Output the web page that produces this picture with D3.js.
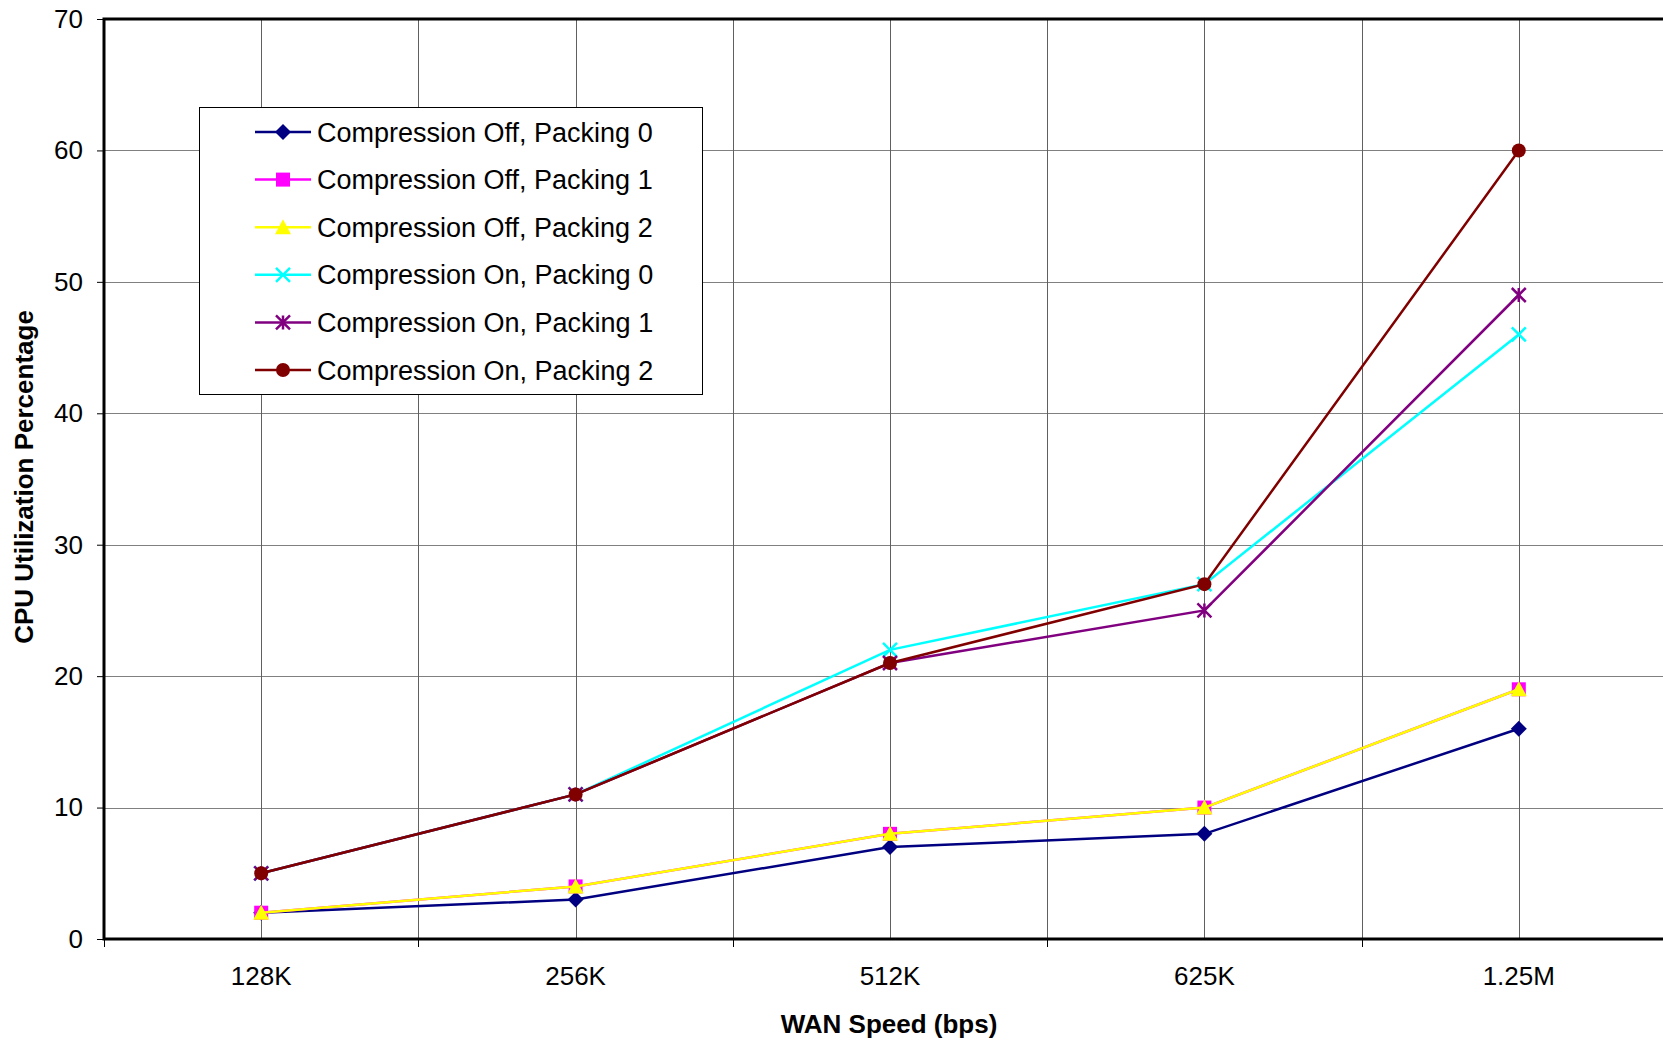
<!DOCTYPE html>
<html>
<head>
<meta charset="utf-8">
<script src="https://cdn.jsdelivr.net/npm/d3@7"></script>
<style>
  html, body { margin: 0; padding: 0; background: #fff; }
  svg { display: block; font-family: "Liberation Sans", Arial, sans-serif; }
</style>
</head>
<body>
<svg id="chart" width="1663" height="1042"></svg>
<script>
// WAN speeds tested
const categories = ["128K", "256K", "512K", "625K", "1.25M"];

// CPU utilization (%) per configuration
const offPack0 = [2, 3, 7, 8, 16];
const offPack1 = [2, 4, 8, 10, 19];
const offPack2 = [2, 4, 8, 10, 19];
const onPack0  = [5, 11, 22, 27, 46];
const onPack1  = [5, 11, 21, 25, 49];
const onPack2  = [5, 11, 21, 27, 60];

const yTicks = [0, 10, 20, 30, 40, 50, 60, 70];

const seriesNames = [
  "Compression Off, Packing 0",
  "Compression Off, Packing 1",
  "Compression Off, Packing 2",
  "Compression On, Packing 0",
  "Compression On, Packing 1",
  "Compression On, Packing 2"
];

const series = [
  { name: seriesNames[0], values: offPack0, color: "#000080", shape: "diamond" },
  { name: seriesNames[1], values: offPack1, color: "#FF00FF", shape: "square" },
  { name: seriesNames[2], values: offPack2, color: "#FFFF00", shape: "triangle" },
  { name: seriesNames[3], values: onPack0,  color: "#00FFFF", shape: "cross" },
  { name: seriesNames[4], values: onPack1,  color: "#800080", shape: "star" },
  { name: seriesNames[5], values: onPack2,  color: "#800000", shape: "circle" }
];

const svg = d3.select("#chart");

// Plot area (runs past the right edge of the canvas)
const plotLeft = 104, plotTop = 19, plotBottom = 939, plotRight = 1676;

const x = d3.scaleBand().domain(categories).range([plotLeft, plotRight]).paddingInner(0).paddingOuter(0);
const cx = c => x(c) + x.bandwidth() / 2;
const y = d3.scaleLinear().domain([0, 70]).range([plotBottom, plotTop]);

const grid = svg.append("g").attr("class", "grid");
// horizontal gridlines
grid.selectAll("line.h").data(yTicks.filter(t => t > 0 && t < 70)).join("line")
  .attr("class", "h")
  .attr("x1", plotLeft).attr("x2", plotRight)
  .attr("y1", d => Math.round(y(d)) + 0.5).attr("y2", d => Math.round(y(d)) + 0.5)
  .attr("stroke", "#808080").attr("stroke-width", 1);
// vertical gridlines at category centers and band boundaries
const vLines = [];
categories.forEach((c, i) => {
  vLines.push(cx(c));
  if (i > 0) vLines.push(x(c));
});
grid.selectAll("line.v").data(vLines).join("line")
  .attr("class", "v")
  .attr("x1", d => Math.round(d) + 0.5).attr("x2", d => Math.round(d) + 0.5)
  .attr("y1", plotTop).attr("y2", plotBottom)
  .attr("stroke", "#606060").attr("stroke-width", 1);

// Y axis
const yAxis = svg.append("g").attr("transform", `translate(${plotLeft},0)`)
  .call(d3.axisLeft(y).tickValues(yTicks).tickSize(7).tickPadding(14).tickFormat(d3.format("d")));
yAxis.select(".domain").remove();
yAxis.selectAll(".tick line").attr("stroke", "#000").attr("stroke-width", 1);
yAxis.selectAll(".tick text").attr("font-size", 26).attr("fill", "#000")
  .attr("font-family", "'Liberation Sans', Arial, sans-serif");

// X axis: ticks at band boundaries, labels centered in bands
const xAxis = svg.append("g").attr("transform", `translate(0,${plotBottom})`);
const boundaries = categories.map(c => x(c)).concat([plotRight]);
xAxis.selectAll("line").data(boundaries).join("line")
  .attr("x1", d => Math.round(d) + 0.5).attr("x2", d => Math.round(d) + 0.5)
  .attr("y1", 0).attr("y2", 8)
  .attr("stroke", "#000").attr("stroke-width", 1);
xAxis.selectAll("text").data(categories).join("text")
  .attr("x", d => cx(d)).attr("y", 46)
  .attr("text-anchor", "middle")
  .attr("font-size", 26).attr("fill", "#000")
  .text(d => d);

// Plot frame
svg.append("rect")
  .attr("x", plotLeft).attr("y", plotTop)
  .attr("width", plotRight - plotLeft).attr("height", plotBottom - plotTop)
  .attr("fill", "none").attr("stroke", "#000").attr("stroke-width", 3);

// Axis titles
svg.append("text")
  .attr("x", 889).attr("y", 1033)
  .attr("text-anchor", "middle")
  .attr("font-size", 26).attr("font-weight", "bold")
  .text("WAN Speed (bps)");
svg.append("text")
  .attr("transform", "translate(33,477) rotate(-90)")
  .attr("text-anchor", "middle")
  .attr("font-size", 26).attr("font-weight", "bold")
  .text("CPU Utilization Percentage");

// Marker drawing
function marker(g, shape, color, px, py) {
  const s = 7;
  switch (shape) {
    case "diamond":
      g.append("path").attr("d", `M${px},${py - s - 1}L${px + s + 1},${py}L${px},${py + s + 1}L${px - s - 1},${py}Z`)
        .attr("fill", color);
      break;
    case "square":
      g.append("rect").attr("x", px - s).attr("y", py - s).attr("width", 2 * s).attr("height", 2 * s)
        .attr("fill", color);
      break;
    case "triangle":
      g.append("path").attr("d", `M${px},${py - s - 1}L${px + s + 1},${py + s}L${px - s - 1},${py + s}Z`)
        .attr("fill", color);
      break;
    case "cross":
      g.append("path").attr("d", `M${px - s},${py - s}L${px + s},${py + s}M${px - s},${py + s}L${px + s},${py - s}`)
        .attr("stroke", color).attr("stroke-width", 2.5).attr("fill", "none");
      break;
    case "star":
      g.append("path").attr("d", `M${px - s},${py - s}L${px + s},${py + s}M${px - s},${py + s}L${px + s},${py - s}M${px},${py - s}L${px},${py + s}`)
        .attr("stroke", color).attr("stroke-width", 2.5).attr("fill", "none");
      break;
    case "circle":
      g.append("circle").attr("cx", px).attr("cy", py).attr("r", s).attr("fill", color);
      break;
  }
}

// Series lines and markers
const line = d3.line().x(d => cx(d.cat)).y(d => y(d.v));
series.forEach(s => {
  const pts = s.values.map((v, i) => ({ cat: categories[i], v }));
  const g = svg.append("g").attr("class", "series");
  g.append("path").datum(pts).attr("d", line)
    .attr("fill", "none").attr("stroke", s.color).attr("stroke-width", 2.5);
  pts.forEach(p => marker(g, s.shape, s.color, cx(p.cat), y(p.v)));
});

// Legend
const legend = svg.append("g");
legend.append("rect")
  .attr("x", 199.5).attr("y", 107.5).attr("width", 503).attr("height", 287)
  .attr("fill", "#fff").attr("stroke", "#000").attr("stroke-width", 1);
series.forEach((s, i) => {
  const ly = 132 + i * 47.6;
  const g = legend.append("g");
  g.append("line").attr("x1", 255).attr("x2", 311).attr("y1", ly).attr("y2", ly)
    .attr("stroke", s.color).attr("stroke-width", 2.5);
  marker(g, s.shape, s.color, 283, ly);
  g.append("text").attr("x", 317).attr("y", ly + 9.5)
    .attr("font-size", 27).attr("fill", "#000")
    .text(s.name);
});
</script>
</body>
</html>
